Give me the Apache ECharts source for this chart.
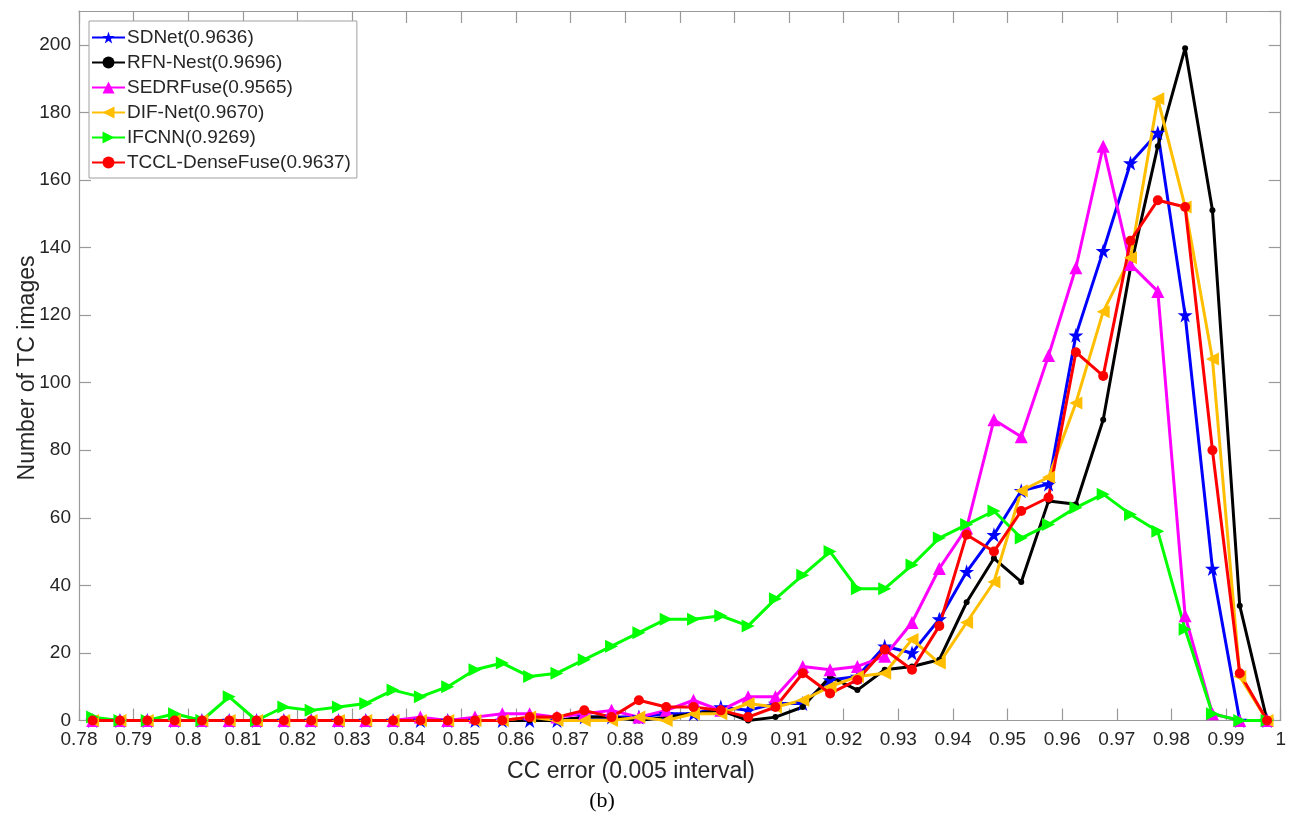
<!DOCTYPE html>
<html>
<head>
<meta charset="utf-8">
<title>CC error histogram</title>
<script src="https://cdn.jsdelivr.net/npm/echarts@6/dist/echarts.min.js"></script>
<style>
  html, body { margin: 0; padding: 0; background: #fff; }
  #chart { width: 1289px; height: 818px; }
</style>
</head>
<body>
<div id="chart"></div>
<script>
// Bin centres of the CC error histogram (0.005 wide bins)
const binCenters = [
  0.7825, 0.7875, 0.7925, 0.7975, 0.8025, 0.8075, 0.8125, 0.8175, 0.8225, 0.8275,
  0.8325, 0.8375, 0.8425, 0.8475, 0.8525, 0.8575, 0.8625, 0.8675, 0.8725, 0.8775,
  0.8825, 0.8875, 0.8925, 0.8975, 0.9025, 0.9075, 0.9125, 0.9175, 0.9225, 0.9275,
  0.9325, 0.9375, 0.9425, 0.9475, 0.9525, 0.9575, 0.9625, 0.9675, 0.9725, 0.9775,
  0.9825, 0.9875, 0.9925, 0.9975
];

// Number of TC images per bin, one array per fusion method
const sdnet = [0,0,0,0,0,0,0,0,0,0, 0,0,0,0,0,0,0,0,1,1, 1,2,2,4,3,5,5,12,13,22, 20,30,44,55,68,70,114,139,165,174, 120,45,0,0];
const rfnNest = [0,0,0,0,0,0,0,0,0,0, 0,0,0,0,0,0,0,0,1,1, 0,1,2,3,0,1,4,13,9,15, 16,18,35,48,41,65,64,89,134,170, 199,151,34,0];
const sedrFuse = [0,0,0,0,0,0,0,0,0,0, 0,0,1,0,1,2,2,1,2,3, 1,3,6,3,7,7,16,15,16,19, 29,45,57,89,84,108,134,170,135,127, 31,2,0,0];
const difNet = [0,0,0,0,0,0,0,0,0,0, 0,0,0,0,0,0,1,0,0,0, 1,0,2,2,5,4,6,10,13,14, 24,17,29,41,68,72,94,121,137,184, 152,107,13,0];
const ifcnn = [1,0,0,2,0,7,0,4,3,4, 5,9,7,10,15,17,13,14,18,22, 26,30,30,31,28,36,43,50,39,39, 46,54,58,62,54,58,63,67,61,56, 27,2,0,0];
const tcclDenseFuse = [0,0,0,0,0,0,0,0,0,0, 0,0,0,0,0,0,1,1,3,1, 6,4,4,3,1,4,14,8,12,21, 15,28,55,50,62,66,109,102,142,154, 152,80,14,0];

const seriesNames = [
  'SDNet(0.9636)', 'RFN-Nest(0.9696)', 'SEDRFuse(0.9565)',
  'DIF-Net(0.9670)', 'IFCNN(0.9269)', 'TCCL-DenseFuse(0.9637)'
];

const xTicks = { min: 0.78, max: 1.0, step: 0.01 };
const yTicks = { min: 0, max: 210, step: 20 };

const STAR = 'path://M50,0 L61.8,35.3 L98.9,35.3 L68.9,57.1 L80.3,92.4 L50,70.6 L19.7,92.4 L31.1,57.1 L1.1,35.3 L38.2,35.3 Z';

function pairs(values) {
  return binCenters.map((x, i) => [x, values[i]]);
}

const styles = [
  { data: sdnet,         color: '#0000FF', symbol: STAR,       size: 15, rotate: 0 },
  { data: rfnNest,       color: '#000000', symbol: 'circle',   size: 6,  rotate: 0 },
  { data: sedrFuse,      color: '#FF00FF', symbol: 'triangle', size: 13, rotate: 0 },
  { data: difNet,        color: '#FFBF00', symbol: 'triangle', size: 13, rotate: 90 },
  { data: ifcnn,         color: '#00FF00', symbol: 'triangle', size: 13, rotate: -90 },
  { data: tcclDenseFuse, color: '#FF0000', symbol: 'circle',   size: 10, rotate: 0 }
];

const series = styles.map((s, i) => ({
  name: seriesNames[i],
  type: 'line',
  xAxisIndex: 0,
  yAxisIndex: 0,
  data: pairs(s.data),
  symbol: s.symbol,
  symbolSize: s.size,
  symbolRotate: s.rotate,
  showAllSymbol: true,
  lineStyle: { color: s.color, width: 3 },
  itemStyle: { color: s.color, borderWidth: 0 },
  emphasis: { disabled: true },
  animation: false,
  clip: false
}));

const axisGray = '#9a9a9a';
const labelColor = '#262626';
const font = '"Liberation Sans", Arial, Helvetica, sans-serif';

function fmtX(v) {
  return String(parseFloat(v.toFixed(2)));
}

const chart = echarts.init(document.getElementById('chart'), null, { renderer: 'canvas' });

chart.setOption({
  backgroundColor: '#ffffff',
  animation: false,
  grid: { left: 79, right: 8, top: 11, bottom: 97.5, containLabel: false },
  xAxis: [
    {
      type: 'value', position: 'bottom',
      min: xTicks.min, max: xTicks.max, interval: xTicks.step,
      axisLine: { show: true, onZero: false, lineStyle: { color: axisGray, width: 1.2 } },
      axisTick: { show: true, inside: true, length: 12, lineStyle: { color: axisGray, width: 1.2 } },
      axisLabel: { color: labelColor, fontFamily: font, fontSize: 19, margin: 10, formatter: fmtX,
                   showMinLabel: true, showMaxLabel: true },
      splitLine: { show: false }
    },
    {
      type: 'value', position: 'top',
      min: xTicks.min, max: xTicks.max, interval: xTicks.step,
      axisLine: { show: true, onZero: false, lineStyle: { color: axisGray, width: 1.2 } },
      axisTick: { show: true, inside: true, length: 12, lineStyle: { color: axisGray, width: 1.2 } },
      axisLabel: { show: false },
      splitLine: { show: false }
    }
  ],
  yAxis: [
    {
      type: 'value', position: 'left',
      min: yTicks.min, max: yTicks.max, interval: yTicks.step,
      axisLine: { show: true, onZero: false, lineStyle: { color: axisGray, width: 1.2 } },
      axisTick: { show: true, inside: true, length: 12, lineStyle: { color: axisGray, width: 1.2 } },
      axisLabel: { color: labelColor, fontFamily: font, fontSize: 19, margin: 8, showMaxLabel: false },
      splitLine: { show: false }
    },
    {
      type: 'value', position: 'right',
      min: yTicks.min, max: yTicks.max, interval: yTicks.step,
      axisLine: { show: true, onZero: false, lineStyle: { color: axisGray, width: 1.2 } },
      axisTick: { show: true, inside: true, length: 12, lineStyle: { color: axisGray, width: 1.2 } },
      axisLabel: { show: false },
      splitLine: { show: false }
    }
  ],
  legend: {
    show: true,
    orient: 'vertical',
    left: 89,
    top: 21,
    data: seriesNames,
    itemWidth: 33,
    itemHeight: 15,
    itemGap: 6,
    padding: [7, 6, 6, 2],
    borderColor: '#a0a0a0',
    borderWidth: 1,
    backgroundColor: '#ffffff',
    selectedMode: false,
    textStyle: { color: '#262626', fontFamily: font, fontSize: 19, padding: [0, 0, 0, -3] }
  },
  graphic: [
    {
      type: 'text',
      style: { text: 'CC error (0.005 interval)', x: 631, y: 772, align: 'center', verticalAlign: 'middle',
               fill: '#262626', font: '23px ' + font }
    },
    {
      type: 'text',
      style: { text: '(b)', x: 602, y: 801, align: 'center', verticalAlign: 'middle',
               fill: '#000000', font: '22px "Liberation Serif", "Times New Roman", serif' }
    },
    {
      type: 'text', rotation: Math.PI / 2, x: 28, y: 368,
      style: { text: 'Number of TC images', x: 0, y: 0, align: 'center', verticalAlign: 'middle',
               fill: '#262626', font: '23px ' + font }
    }
  ],
  series: series
});
</script>
</body>
</html>
